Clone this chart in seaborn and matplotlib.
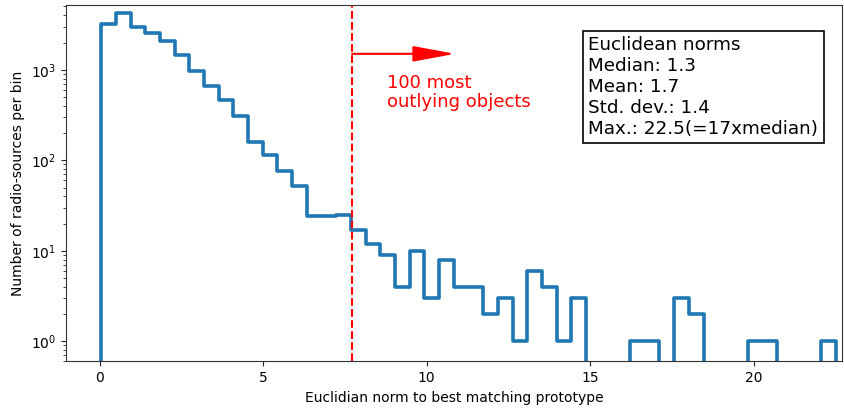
import numpy as np
import pandas as pd
import matplotlib
matplotlib.use("Agg")
import matplotlib.pyplot as plt
import seaborn as sns

# histogram: 50 bins from min to max norm
norm_min = 0.05
norm_max = 22.5
counts = [3200, 4200, 2950, 2580, 2100, 1460, 975, 655, 460, 310,
          160, 113, 76, 52, 24, 24, 25, 17, 12, 9,
          4, 10, 3, 8, 4, 4, 2, 3, 1, 6,
          4, 1, 3, 0, 0, 0, 1, 1, 0, 3,
          2, 0, 0, 0, 1, 1, 0, 0, 0, 1]
threshold = 7.72
stats_text = ["Euclidean norms", "Median: 1.3", "Mean: 1.7",
              "Std. dev.: 1.4", "Max.: 22.5(=17xmedian)"]

edges = np.linspace(norm_min, norm_max, len(counts) + 1)
w = edges[1] - edges[0]
df = pd.DataFrame({"norm": (edges[:-1] + edges[1:]) / 2, "n": counts})
# one empty bin on each side so the outline drops to the axis at both ends
bins = [edges[0] - w] + list(edges) + [edges[-1] + w]

sns.set_style("ticks")
plt.rcParams["font.family"] = ["DejaVu Sans"]
plt.rcParams["text.color"] = "black"
plt.rcParams["axes.labelcolor"] = "black"
plt.rcParams["xtick.labelcolor"] = "black"
plt.rcParams["ytick.labelcolor"] = "black"

fig = plt.figure(figsize=(8.44, 4.13), dpi=100)
ax = fig.add_axes([0.078, 0.125, 0.92, 0.863])

sns.histplot(data=df, x="norm", weights="n", bins=bins, element="step",
             fill=False, color="#1f77b4", linewidth=2.6, ax=ax)
ax.set_yscale("log")
ax.set_xlim(-1.03, 22.7)
ax.set_ylim(0.6, 5200)

# cut for the 100 most outlying objects
ax.axvline(threshold, color="red", linestyle="--", linewidth=1.5)
ax.annotate("", xy=(10.87, 1500), xytext=(threshold, 1500),
            arrowprops=dict(arrowstyle="-|>,head_length=2.6,head_width=0.48",
                            color="red", lw=1.5, mutation_scale=10,
                            shrinkA=0, shrinkB=0))
ax.text(8.78, 900, "100 most\noutlying objects", color="red", fontsize=13,
        va="top", ha="left", linespacing=1.05)

ax.text(0.673, 0.912, "\n".join(stats_text), transform=ax.transAxes, fontsize=13.2,
        va="top", ha="left", linespacing=1.2,
        bbox=dict(boxstyle="square,pad=0.3", fc="white", ec="black", lw=1.2))

ax.set_xlabel("Euclidian norm to best matching prototype", fontsize=10)
ax.set_ylabel("Number of radio-sources per bin", fontsize=10)
ax.tick_params(labelsize=10)
for s in ax.spines.values():
    s.set_color("#333333")

plt.savefig("out.png", dpi=100)
